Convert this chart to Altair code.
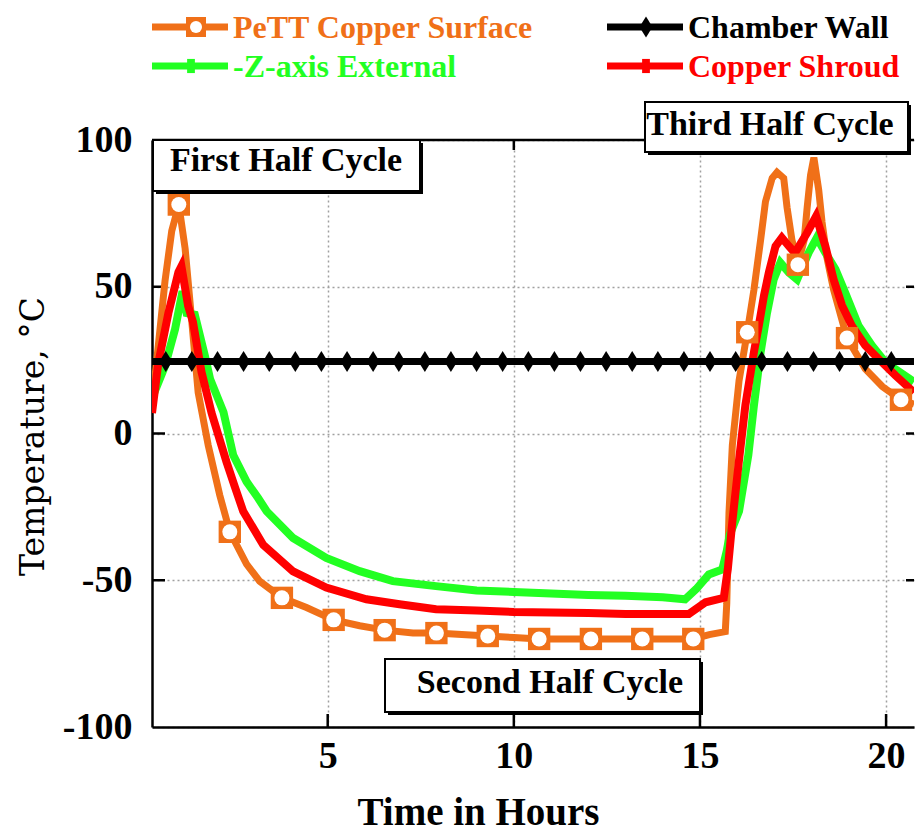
import altair as alt
import pandas as pd

# ---------------- data ----------------
SERIES = ["PeTT Copper Surface", "Chamber Wall", "-Z-axis External", "Copper Shroud"]
COLORS = ["#F07018", "#000000", "#22FF22", "#FF0000"]

pett_t = [0.28, 0.45, 0.63, 0.81, 1.00, 1.17, 1.35, 1.52, 1.79, 2.10, 2.37, 2.82, 3.17, 3.77,
          4.43, 5.16, 5.86, 6.53, 7.29, 7.92, 8.60, 9.30, 10.00, 10.68, 11.40, 12.07, 12.80,
          13.45, 14.10, 14.82, 15.25, 15.68, 15.72, 15.78, 15.87, 16.05, 16.27, 16.45, 16.63,
          16.76, 16.94, 17.07, 17.25, 17.34, 17.47, 17.63, 17.80, 17.88, 17.97, 18.06, 18.19,
          18.28, 18.41, 18.59, 18.95, 19.44, 19.90, 20.40, 20.75]
pett_v = [10, 30, 52, 69, 78, 63, 38, 14, -4, -21, -33.5, -44.5, -50.3, -56,
          -59.3, -63.5, -65.5, -67, -68, -68, -68.5, -69, -69.5, -70, -70, -70, -70,
          -70, -70, -70, -68.5, -67.5, -58, -27, -4, 18, 34.5, 49, 66,
          79, 87, 89, 87, 77, 66, 57.5, 66, 77, 88, 94, 83,
          72, 60, 49, 32.5, 22, 16, 11.5, 10]
pett_mark_t = [1.00, 2.37, 3.77, 5.16, 6.53, 7.92, 9.30, 10.68, 12.07, 13.45, 14.82,
               16.27, 17.63, 18.95, 20.40]
pett_mark_v = [78, -33.5, -56, -63.5, -67, -68, -69, -70, -70, -70, -70,
               34.5, 57.5, 32.5, 11.5]

zext_t = [0.28, 0.63, 0.90, 1.10, 1.21, 1.43, 1.70, 1.84, 2.20, 2.46, 2.82, 3.13, 3.36, 4.07,
          4.96, 5.86, 6.75, 7.91, 9.00, 10.00, 11.00, 12.00, 13.00, 14.00, 14.60, 14.90,
          15.24, 15.60, 15.72, 15.80, 16.05, 16.30, 16.45, 16.63, 16.80, 16.98, 17.16, 17.39,
          17.61, 17.92, 18.14, 18.37, 18.64, 18.90, 19.26, 19.62, 19.98, 20.75]
zext_v = [12, 23, 35.6, 48.5, 41, 40.5, 26.5, 18.6, 7.3, -7.3, -16.4, -22, -26.5, -35.6,
          -42.4, -46.9, -50.3, -52, -53.5, -54, -54.5, -55, -55.3, -55.8, -56.5, -53,
          -48, -46.3, -40, -34.5, -26.5, -7.3, 9.6, 27.7, 41, 52.5, 58.2, 54.8,
          52.5, 61.6, 66.7, 61.6, 55.9, 48, 36.7, 30, 24.3, 17.6]

shroud_t = [0.28, 0.45, 0.72, 0.99, 1.07, 1.25, 1.38, 1.61, 1.88, 2.28, 2.50, 2.73, 3.27,
            4.07, 4.96, 6.04, 6.93, 7.91, 9.00, 10.00, 11.00, 12.00, 13.00, 14.00, 14.70,
            15.15, 15.64, 15.75, 15.87, 16.05, 16.22, 16.45, 16.58, 16.72, 16.85, 17.03,
            17.20, 17.39, 17.55, 17.88, 18.12, 18.37, 18.59, 18.82, 19.08, 19.44, 19.80,
            20.25, 20.75]
shroud_v = [7, 24, 41, 55, 57, 43.5, 38, 21, 7, -9.6, -18, -26.5, -38,
            -47, -52.5, -56.5, -58.2, -59.9, -60.3, -60.8, -61, -61.2, -61.5, -61.5, -61.5,
            -57.5, -56, -46, -30, -9, 9.6, 27.7, 36.7, 47, 54.8, 63.8,
            66.7, 63.8, 61.5, 68.4, 74, 63.8, 52.5, 43.5, 36.7, 30, 25.4,
            19.8, 14]

wall_t = [0.28, 20.75]
wall_v = [24.5, 24.5]
wall_mark_t = [0.65, 1.35, 2.04, 2.74, 3.43, 4.13, 4.83, 5.52, 6.22, 6.91, 7.61, 8.31, 9.00,
               9.70, 10.39, 11.09, 11.79, 12.48, 13.18, 13.87, 14.57, 15.27, 15.96, 16.66,
               17.35, 18.05, 18.75, 19.44, 20.14]
wall_mark_v = [24.5] * len(wall_mark_t)

x_ticks = [5, 10, 15, 20]
y_ticks = [-100, -50, 0, 50, 100]
inner_y_ticks = [-50, 0, 50]

ANNOTATIONS = ["First Half Cycle", "Second Half Cycle", "Third Half Cycle"]

# ---------------- layout / style ----------------
W, H = 762, 587
SERIF = "Liberation Serif"
DIAMOND = "M0,-1L0.62,0L0,1L-0.62,0Z"
SMALLBAR = "M-0.55,-1H0.55V1H-0.55Z"

x_scale = alt.Scale(domain=[0.28, 20.75], nice=False, zero=False)
y_scale = alt.Scale(domain=[-100, 100], nice=False, zero=False)

x_axis = alt.Axis(values=x_ticks, grid=True, gridColor="#a0a0a0", gridDash=[2, 3],
                  gridWidth=1.5, ticks=False, domainColor="black", domainWidth=2.5,
                  labelFont=SERIF, labelFontWeight="bold", labelFontSize=38,
                  labelColor="black", labelPadding=10, labelFlush=False,
                  labelExpr="'' + datum.value",
                  title="Time in Hours", titleFont=SERIF, titleFontWeight="bold",
                  titleFontSize=39, titleColor="black", titleX=326, titleY=97,
                  titleAlign="center", titleBaseline="alphabetic")
y_axis = alt.Axis(values=y_ticks, grid=True, gridColor="#a0a0a0", gridDash=[2, 3],
                  gridWidth=1.5, ticks=False, domainColor="black", domainWidth=2.5,
                  labelFont=SERIF, labelFontWeight="bold", labelFontSize=38,
                  labelColor="black", labelPadding=20, labelFlush=False,
                  labelExpr="'' + datum.value",
                  title="Temperature, °C", titleFont="DejaVu Serif",
                  titleFontWeight="normal", titleFontSize=33, titleColor="black",
                  titleX=-119, titleY=296, titleAngle=270, titleAlign="center",
                  titleBaseline="middle")


def X():
    return alt.X("t:Q", scale=x_scale, axis=x_axis)


def Y():
    return alt.Y("v:Q", scale=y_scale, axis=y_axis)


def line(t, v, color, width):
    df = pd.DataFrame({"t": t, "v": v})
    return alt.Chart(df).mark_line(color=color, strokeWidth=width, clip=True,
                                   strokeJoin="miter").encode(x=X(), y=Y(), order="t:Q")


def points(t, v, **kw):
    df = pd.DataFrame({"t": t, "v": v})
    return alt.Chart(df).mark_point(filled=True, opacity=1, clip=True, **kw).encode(x=X(), y=Y())


dummy = pd.DataFrame({"d": [0]})
layers = []

# ticks (drawn inward) and top border
layers.append(alt.Chart(pd.DataFrame({"v": inner_y_ticks})).mark_rule(
    color="black", strokeWidth=2.5).encode(y=Y(), x=alt.value(0), x2=alt.value(13)))
layers.append(alt.Chart(pd.DataFrame({"v": inner_y_ticks})).mark_rule(
    color="black", strokeWidth=2.5).encode(y=Y(), x=alt.value(W - 8), x2=alt.value(W)))
layers.append(alt.Chart(pd.DataFrame({"t": x_ticks})).mark_rule(
    color="black", strokeWidth=2.5).encode(x=X(), y=alt.value(H), y2=alt.value(H - 13)))
layers.append(alt.Chart(pd.DataFrame({"t": x_ticks})).mark_rule(
    color="black", strokeWidth=2.5).encode(x=X(), y=alt.value(0), y2=alt.value(10)))
layers.append(alt.Chart(dummy).mark_rule(color="black", strokeWidth=2.5).encode(
    x=alt.value(0), x2=alt.value(W), y=alt.value(0)))

# data series
layers.append(line(pett_t, pett_v, COLORS[0], 7))
layers.append(line(zext_t, zext_v, COLORS[2], 8))
layers.append(line(shroud_t, shroud_v, COLORS[3], 8))
layers.append(points(pett_mark_t, pett_mark_v, shape="square", size=500, color=COLORS[0]))
layers.append(points(pett_mark_t, pett_mark_v, shape="circle", size=225, color="white"))
layers.append(line(wall_t, wall_v, COLORS[1], 7))
layers.append(points(wall_mark_t, wall_mark_v, shape=DIAMOND, size=441, color=COLORS[1]))

# annotation boxes
boxes = [  # (text, x0, x1, y0, y1, text_x, text_baseline_y)
    (ANNOTATIONS[0], 1, 268, 0, 51, 134, 31),
    (ANNOTATIONS[1], 233, 548, 519, 572, 398, 553),
    (ANNOTATIONS[2], 493, 756, -38, 12, 618, -5),
]
for text, x0, x1, y0, y1, tx, ty in boxes:
    layers.append(alt.Chart(dummy).mark_rect(color="black").encode(
        x=alt.value(x0 + 3), x2=alt.value(x1 + 3), y=alt.value(y0 + 3), y2=alt.value(y1 + 3)))
    layers.append(alt.Chart(dummy).mark_rect(fill="white", stroke="black", strokeWidth=2).encode(
        x=alt.value(x0), x2=alt.value(x1), y=alt.value(y0), y2=alt.value(y1)))
    layers.append(alt.Chart(dummy).mark_text(
        font=SERIF, fontWeight="bold", fontSize=34, color="black", align="center",
        baseline="alphabetic").encode(x=alt.value(tx), y=alt.value(ty), text=alt.value(text)))

# legend (two columns, two rows above the plot)
col_x = [0, 455]
row_y = [-113, -74]
row_base = [-102, -63]
for i, (name, color) in enumerate(zip(SERIES, COLORS)):
    cx = col_x[i % 2]
    ry = row_y[i // 2]
    layers.append(alt.Chart(dummy).mark_rule(color=color, strokeWidth=7).encode(
        x=alt.value(cx), x2=alt.value(cx + 76), y=alt.value(ry)))
    mx = cx + (44 if i == 0 else 39)
    if i == 0:
        layers.append(alt.Chart(dummy).mark_point(shape="square", size=400, filled=True,
                                                  opacity=1, color=color).encode(
            x=alt.value(mx), y=alt.value(ry)))
        layers.append(alt.Chart(dummy).mark_point(shape="circle", size=144, filled=True,
                                                  opacity=1, color="white").encode(
            x=alt.value(mx), y=alt.value(ry)))
    elif i == 1:
        layers.append(alt.Chart(dummy).mark_point(shape=DIAMOND, size=441, filled=True,
                                                  opacity=1, color=color).encode(
            x=alt.value(mx), y=alt.value(ry)))
    else:
        layers.append(alt.Chart(dummy).mark_point(shape=SMALLBAR, size=200, filled=True,
                                                  opacity=1, color=color).encode(
            x=alt.value(mx), y=alt.value(ry)))
    layers.append(alt.Chart(dummy).mark_text(
        font=SERIF, fontWeight="bold", fontSize=32, color=color, align="left",
        baseline="alphabetic").encode(x=alt.value(cx + 81), y=alt.value(row_base[i // 2]),
                                      text=alt.value(name)))

chart = alt.layer(*layers).properties(
    width=W, height=H,
    autosize=alt.AutoSizeParams(type="none"),
    padding={"left": 152, "top": 140, "right": 2, "bottom": 109},
).configure_view(stroke=None)

chart.save("out.html", embed_options={"renderer": "svg", "actions": False})
